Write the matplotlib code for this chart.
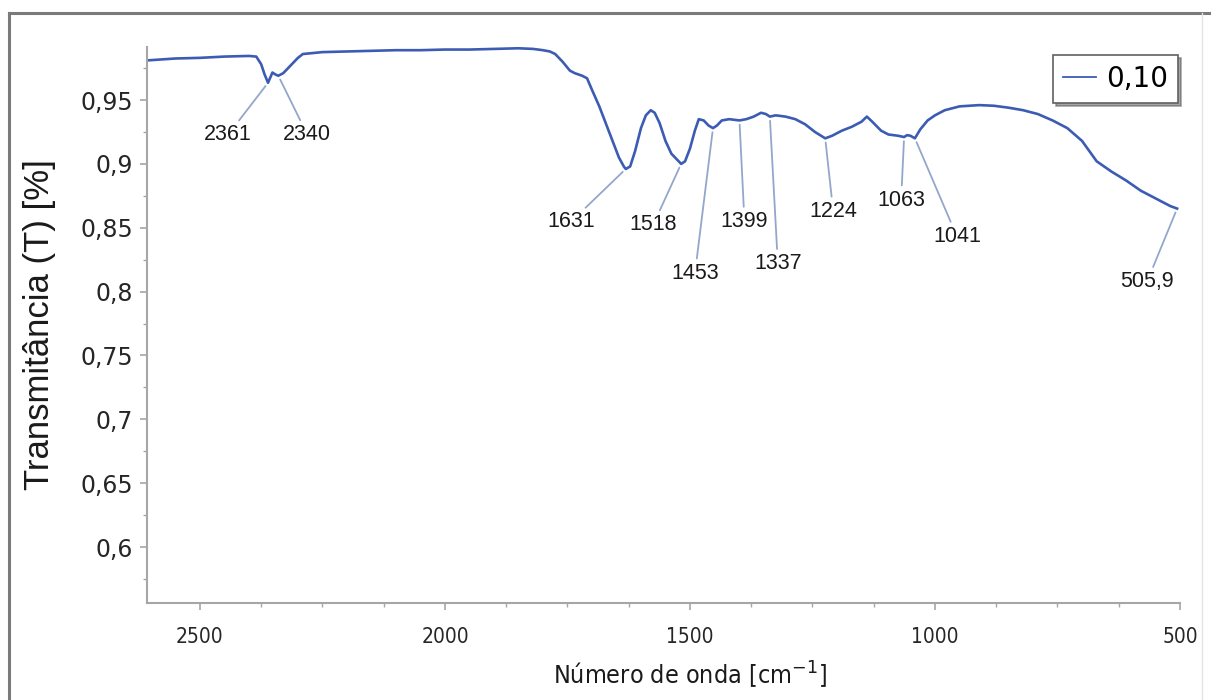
import numpy as np
import matplotlib
matplotlib.use("Agg")
import matplotlib.pyplot as plt
from matplotlib.ticker import MultipleLocator, FuncFormatter
from matplotlib.lines import Line2D

# FTIR spectrum, sample 0,10
wavenumber = [2608, 2550, 2500, 2450, 2400, 2385, 2375, 2368, 2361, 2356, 2352, 2346,
              2340, 2330, 2315, 2300, 2290, 2250, 2200, 2150, 2100, 2050, 2000, 1950,
              1900, 1850, 1820, 1800, 1786, 1775, 1760, 1745, 1735, 1720, 1710, 1700,
              1685, 1670, 1655, 1645, 1635, 1631, 1622, 1612, 1600, 1590, 1580, 1572,
              1562, 1550, 1538, 1528, 1518, 1510, 1500, 1490, 1482, 1472, 1462, 1453,
              1445, 1435, 1420, 1399, 1385, 1370, 1355, 1345, 1337, 1325, 1305, 1285,
              1265, 1245, 1224, 1210, 1190, 1170, 1150, 1139, 1128, 1110, 1095, 1075,
              1063, 1057, 1050, 1041, 1030, 1015, 1000, 980, 950, 910, 880, 850,
              820, 790, 760, 730, 700, 670, 640, 610, 580, 550, 520, 505.9]
transmittance = [0.981, 0.9825, 0.983, 0.984, 0.9845, 0.984, 0.978, 0.970, 0.9635, 0.968, 0.9715, 0.970,
                 0.969, 0.971, 0.977, 0.983, 0.986, 0.9875, 0.988, 0.9885, 0.989, 0.989, 0.9895, 0.9895,
                 0.990, 0.9905, 0.990, 0.989, 0.988, 0.986, 0.980, 0.973, 0.971, 0.969, 0.967, 0.958,
                 0.945, 0.930, 0.915, 0.905, 0.898, 0.896, 0.898, 0.910, 0.928, 0.938, 0.942, 0.940,
                 0.932, 0.918, 0.908, 0.904, 0.900, 0.902, 0.912, 0.926, 0.935, 0.934, 0.930, 0.928,
                 0.930, 0.934, 0.935, 0.934, 0.935, 0.937, 0.940, 0.939, 0.937, 0.938, 0.937, 0.935,
                 0.931, 0.925, 0.920, 0.922, 0.926, 0.929, 0.933, 0.937, 0.933, 0.926, 0.923, 0.922,
                 0.921, 0.9225, 0.922, 0.920, 0.927, 0.934, 0.938, 0.942, 0.945, 0.946, 0.9455, 0.944,
                 0.942, 0.939, 0.934, 0.928, 0.918, 0.902, 0.894, 0.887, 0.879, 0.873, 0.867, 0.865]

peak_wn = [2361, 2340, 1631, 1518, 1453, 1399, 1337, 1224, 1063, 1041, 505.9]
peak_labels = ["2361", "2340", "1631", "1518", "1453", "1399", "1337", "1224", "1063", "1041", "505,9"]
# where each label sits relative to its peak (pixels)
label_offsets = [(-40, -52), (29, -59), (-55, -53), (-28, -61), (-18, -145), (5, -101),
                 (8, -147), (8, -73), (-3, -63), (42, -98), (-30, -73)]

line_color = "#3c5cb4"
leader_color = "#93a7cc"
axis_color = "#a6a6a6"

fig = plt.figure(figsize=(12.11, 7.0), dpi=100)
ax = fig.add_axes([147 / 1211, 1 - 603 / 700, (1180 - 147) / 1211, (603 - 47) / 700])

ax.plot(wavenumber, transmittance, color=line_color, lw=1.9, label="0,10")

ax.set_xlim(2608, 500)
ax.set_ylim(0.5562, 0.9915)

wn_arr = np.array(wavenumber)
t_arr = np.array(transmittance)
for wn, lab, off in zip(peak_wn, peak_labels, label_offsets):
    t = t_arr[np.argmin(np.abs(wn_arr - wn))]
    ax.annotate(lab, xy=(wn, t), xytext=off, textcoords="offset pixels",
                ha="center", va="center", fontsize=15.5, family="Liberation Sans",
                color="#1a1a1a",
                arrowprops=dict(arrowstyle="-", color=leader_color, lw=1.3,
                                shrinkA=1, shrinkB=3))

for side in ["top", "right"]:
    ax.spines[side].set_visible(False)
for side in ["left", "bottom"]:
    ax.spines[side].set_color(axis_color)
    ax.spines[side].set_linewidth(1.5)

ax.xaxis.set_major_locator(MultipleLocator(500))
ax.xaxis.set_minor_locator(MultipleLocator(125))
ax.yaxis.set_major_locator(MultipleLocator(0.05))
ax.yaxis.set_minor_locator(MultipleLocator(0.025))
ax.yaxis.set_major_formatter(FuncFormatter(lambda v, p: ("%g" % round(v, 3)).replace(".", ",")))
ax.set_yticks([v / 100 for v in range(60, 100, 5)])

ax.tick_params(which="both", color=axis_color, direction="out")
ax.tick_params(which="major", length=5, width=1.2)
ax.tick_params(which="minor", length=3, width=1.0)
ax.tick_params(axis="y", labelsize=17, labelcolor="#262626", pad=5)
ax.tick_params(axis="x", labelsize=15, labelcolor="#262626", pad=12)
for lab in ax.get_xticklabels():
    lab.set_fontstretch("condensed")

ax.set_ylabel("Transmitância (T) [%]", fontsize=25, family="Liberation Sans",
              color="#1a1a1a")
ax.yaxis.set_label_coords(-0.088, 0.5)
ax.set_xlabel(r"Número de onda [cm$^{-1}$]", fontsize=18, color="#1a1a1a",
              fontstretch="condensed")
ax.xaxis.set_label_coords(0.526, -0.102)

leg = ax.legend(handles=[Line2D([], [], color=line_color, lw=1.3)], labels=["0,10"],
                loc="upper right", bbox_to_anchor=(0.998, 0.986), borderaxespad=0,
                fontsize=20, fancybox=False, shadow=True, handlelength=1.2,
                handletextpad=0.35, borderpad=0.36)
leg.get_frame().set_edgecolor("#606060")
leg.get_frame().set_linewidth(1.2)

# outer frame around the plot area
fig.add_artist(Line2D([9 / 1211, 1], [1 - 13 / 700] * 2, transform=fig.transFigure,
                      color="#7a7a7a", lw=2.2))
fig.add_artist(Line2D([9 / 1211] * 2, [0, 1 - 13 / 700], transform=fig.transFigure,
                      color="#7a7a7a", lw=2.2))
fig.add_artist(Line2D([1202 / 1211] * 2, [0, 1 - 13 / 700], transform=fig.transFigure,
                      color="#e4e4e4", lw=1.0))

fig.savefig("out.png", dpi=100)
